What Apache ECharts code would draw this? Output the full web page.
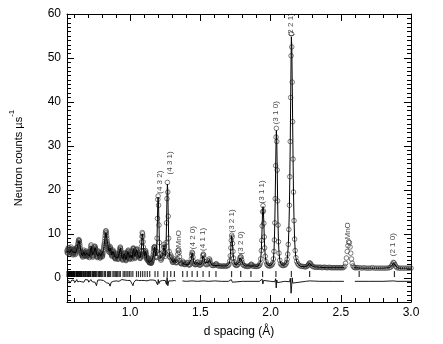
<!DOCTYPE html>
<html>
<head>
<meta charset="utf-8">
<script src="https://cdn.jsdelivr.net/npm/echarts@6/dist/echarts.min.js"></script>
<style>
html,body{margin:0;padding:0;background:#fff;}
#chart{width:443px;height:344px;}
</style>
</head>
<body>
<div id="chart"></div>
<script>
// ---------- DATA ----------
// Observed neutron counts [d spacing (Å), counts]
const obs = [
[0.550,6.2],[0.554,5.6],[0.558,6.8],[0.562,5.9],[0.566,6.5],[0.570,5.4],[0.574,6.1],[0.578,7.0],[0.582,6.3],[0.586,5.5],
[0.590,6.0],[0.594,5.2],[0.598,5.8],[0.602,6.6],[0.606,5.9],[0.610,5.3],[0.614,6.2],[0.618,6.9],[0.622,6.4],[0.626,7.2],
[0.630,8.0],[0.634,8.7],[0.638,8.4],[0.642,7.3],[0.646,6.2],[0.650,5.4],[0.654,5.9],[0.658,5.1],[0.662,4.7],[0.666,5.5],
[0.670,6.3],[0.674,5.6],[0.678,4.9],[0.682,5.3],[0.686,6.1],[0.690,5.4],[0.694,4.8],[0.698,5.2],[0.702,6.0],[0.706,5.3],
[0.710,4.6],[0.714,5.5],[0.718,6.6],[0.722,7.5],[0.726,6.2],[0.730,5.2],[0.734,4.7],[0.738,5.4],[0.742,6.2],[0.746,6.9],
[0.750,7.1],[0.754,6.5],[0.758,5.7],[0.762,5.0],[0.766,4.6],[0.770,5.3],[0.774,6.1],[0.778,5.6],[0.782,4.9],[0.786,4.5],
[0.790,5.1],[0.794,5.8],[0.798,5.2],[0.802,4.8],[0.806,5.6],[0.810,6.5],[0.814,7.4],[0.818,8.3],[0.822,9.6],[0.826,10.6],
[0.830,10.2],[0.834,8.9],[0.838,7.8],[0.842,7.2],[0.846,6.4],[0.850,5.8],[0.854,6.6],[0.858,7.1],[0.862,6.2],[0.866,5.4],
[0.870,4.9],[0.874,5.5],[0.878,6.3],[0.882,5.7],[0.886,5.0],[0.890,4.6],[0.894,4.3],[0.898,4.9],[0.902,5.6],[0.906,5.1],
[0.910,4.5],[0.914,4.2],[0.918,4.8],[0.922,5.5],[0.926,6.4],[0.930,7.0],[0.934,6.1],[0.938,5.1],[0.942,4.4],[0.946,4.0],
[0.950,4.6],[0.954,5.3],[0.958,5.7],[0.962,5.0],[0.966,4.3],[0.970,3.9],[0.974,4.4],[0.978,5.1],[0.982,5.8],[0.986,6.3],
[0.990,5.7],[0.994,4.8],[0.998,4.2],[1.002,4.7],[1.006,5.4],[1.010,4.9],[1.014,4.3],[1.018,6.2],[1.022,6.8],[1.026,6.3],
[1.030,5.1],[1.034,4.4],[1.038,4.9],[1.042,5.9],[1.046,6.6],[1.050,6.1],[1.054,5.2],[1.058,5.0],[1.062,5.6],[1.066,5.0],
[1.070,4.4],[1.074,4.8],[1.078,6.0],[1.082,8.2],[1.086,10.3],[1.090,9.4],[1.094,7.0],[1.098,5.5],[1.102,4.8],[1.106,5.6],
[1.110,6.2],[1.114,5.4],[1.118,4.5],[1.122,4.0],[1.126,4.6],[1.130,4.1],[1.134,3.6],[1.138,3.4],[1.142,3.7],[1.146,3.5],
[1.150,3.3],[1.154,3.6],[1.158,4.2],[1.162,4.8],[1.166,5.9],[1.170,6.9],[1.174,7.1],[1.178,6.2],[1.182,4.9],[1.186,4.6],
[1.188,6.0],[1.191,9.0],[1.194,13.5],[1.197,17.8],[1.199,18.6],[1.202,16.5],[1.205,12.0],[1.208,8.0],[1.211,5.5],[1.215,4.4],
[1.219,4.0],[1.223,4.3],[1.227,4.6],[1.231,5.0],[1.235,5.9],[1.238,7.0],[1.241,7.6],[1.244,7.0],[1.247,5.8],[1.250,4.9],
[1.253,5.4],[1.256,8.0],[1.259,12.5],[1.262,18.0],[1.265,21.7],[1.268,19.5],[1.271,14.0],[1.274,9.0],[1.277,6.0],[1.281,4.8],
[1.285,4.6],[1.289,5.2],[1.293,4.8],[1.297,4.0],[1.301,3.6],[1.305,3.5],[1.309,3.7],[1.313,4.0],[1.317,4.3],[1.321,3.9],
[1.325,3.5],[1.329,3.4],[1.333,3.6],[1.336,4.3],[1.339,5.4],[1.342,6.2],[1.345,6.4],[1.348,5.8],[1.351,4.8],[1.354,3.9],
[1.358,3.4],[1.362,3.2],[1.366,3.2],[1.370,3.4],[1.374,3.8],[1.378,3.5],[1.382,3.1],[1.388,3.0],[1.394,3.1],[1.400,3.2],
[1.405,3.5],[1.409,3.4],[1.414,3.0],[1.420,2.9],[1.426,3.0],[1.431,3.4],[1.435,4.3],[1.438,5.2],[1.441,5.8],[1.444,5.6],
[1.447,4.7],[1.450,3.8],[1.455,3.2],[1.461,3.0],[1.467,3.0],[1.473,3.1],[1.478,3.5],[1.482,3.6],[1.486,3.2],[1.492,2.9],
[1.498,2.9],[1.504,3.0],[1.510,3.4],[1.514,4.2],[1.517,5.0],[1.520,5.4],[1.523,5.2],[1.526,4.5],[1.530,3.7],[1.535,3.2],
[1.541,3.0],[1.548,3.0],[1.555,3.3],[1.560,3.9],[1.564,4.3],[1.568,4.0],[1.573,3.3],[1.580,2.9],[1.588,2.8],[1.596,2.8],
[1.604,2.9],[1.610,3.1],[1.614,3.2],[1.619,2.9],[1.627,2.7],[1.636,2.7],[1.645,2.7],[1.654,2.6],[1.663,2.7],[1.672,2.7],
[1.681,2.6],[1.690,2.7],[1.698,2.8],[1.704,3.1],[1.709,3.8],[1.713,5.0],[1.717,6.8],[1.720,8.5],[1.723,9.7],[1.726,9.3],
[1.729,7.8],[1.732,6.0],[1.736,4.5],[1.740,3.6],[1.745,3.1],[1.751,2.9],[1.757,2.8],[1.763,2.9],[1.769,3.1],[1.774,3.5],
[1.778,4.0],[1.782,4.5],[1.786,4.8],[1.790,4.7],[1.794,4.1],[1.798,3.5],[1.803,3.0],[1.810,2.8],[1.818,2.7],[1.826,2.6],
[1.835,2.6],[1.844,2.6],[1.852,2.7],[1.858,2.9],[1.862,3.1],[1.866,3.0],[1.872,2.7],[1.881,2.6],[1.890,2.6],[1.899,2.6],
[1.908,2.6],[1.916,2.7],[1.922,2.9],[1.926,3.3],[1.930,4.3],[1.934,6.2],[1.937,8.5],[1.940,11.8],[1.943,15.0],[1.946,16.4],
[1.949,15.2],[1.952,12.4],[1.955,9.3],[1.958,6.8],[1.962,4.9],[1.967,3.7],[1.973,3.1],[1.980,2.8],[1.988,2.7],[1.996,2.7],
[2.004,2.8],[2.011,3.0],[2.016,3.4],[2.020,4.3],[2.024,6.0],[2.027,8.6],[2.030,12.5],[2.033,18.0],[2.036,25.5],[2.039,32.0],
[2.041,34.0],[2.044,31.0],[2.047,24.5],[2.050,17.5],[2.053,12.0],[2.056,8.2],[2.060,5.6],[2.065,4.0],[2.071,3.2],[2.078,2.9],
[2.086,2.8],[2.094,2.8],[2.102,2.9],[2.108,3.1],[2.114,3.5],[2.118,4.2],[2.122,5.4],[2.126,7.6],[2.130,11.0],[2.134,16.5],
[2.137,23.0],[2.140,31.0],[2.143,41.0],[2.146,50.5],[2.148,55.5],[2.151,52.5],[2.154,44.5],[2.157,35.5],[2.160,27.0],[2.163,19.5],
[2.167,13.0],[2.171,8.8],[2.175,6.2],[2.180,4.6],[2.186,3.7],[2.193,3.2],[2.201,2.9],[2.210,2.7],[2.220,2.6],[2.230,2.6],
[2.240,2.5],[2.250,2.5],[2.258,2.6],[2.265,2.8],[2.270,3.0],[2.275,3.3],[2.280,3.4],[2.285,3.2],[2.290,2.9],[2.298,2.6],
[2.308,2.5],[2.318,2.4],[2.328,2.4],[2.338,2.4],[2.348,2.4],[2.358,2.4],[2.368,2.3],[2.378,2.4],[2.388,2.4],[2.398,2.3],
[2.408,2.3],[2.418,2.4],[2.428,2.3],[2.438,2.3],[2.448,2.3],[2.458,2.3],[2.468,2.3],[2.478,2.3],[2.488,2.3],[2.498,2.3],
[2.508,2.3],[2.518,2.3],[2.528,2.6],[2.534,3.3],[2.540,4.5],[2.546,6.0],[2.551,7.3],[2.556,8.2],[2.561,8.0],[2.566,7.0],
[2.571,5.6],[2.576,4.3],[2.581,3.3],[2.587,2.7],[2.594,2.4],[2.600,2.3],[2.610,2.3],[2.620,2.3],[2.635,2.3],[2.650,2.2],
[2.665,2.3],[2.680,2.2],[2.695,2.2],[2.710,2.2],[2.725,2.3],[2.740,2.2],[2.755,2.2],[2.770,2.2],[2.785,2.2],[2.800,2.2],
[2.815,2.2],[2.830,2.2],[2.845,2.3],[2.855,2.4],[2.862,2.7],[2.868,3.1],[2.874,3.5],[2.880,3.4],[2.886,3.0],[2.893,2.6],
[2.900,2.3],[2.912,2.2],[2.925,2.2],[2.940,2.2],[2.955,2.2],[2.970,2.2],[2.985,2.2],[3.000,2.2]
];
// Additional observed points in the densely sampled short-d region
const obsFine = [
[0.552,5.8],[0.556,6.4],[0.560,6.0],[0.564,6.9],[0.568,5.7],[0.572,5.9],[0.576,6.6],[0.580,6.5],[0.584,5.7],[0.588,6.3],
[0.592,5.5],[0.596,5.4],[0.600,6.4],[0.604,6.1],[0.608,5.5],[0.612,5.8],[0.616,6.7],[0.620,6.5],[0.624,6.9],[0.628,7.7],
[0.632,8.5],[0.636,8.3],[0.640,7.8],[0.644,6.7],[0.648,5.7],[0.652,5.8],[0.656,5.3],[0.660,4.9],[0.664,5.1],[0.668,6.0],
[0.672,5.8],[0.676,5.1],[0.680,5.2],[0.684,5.8],[0.688,5.6],[0.692,5.0],[0.696,5.1],[0.700,5.7],[0.704,5.6],[0.708,4.8],
[0.712,5.1],[0.716,6.1],[0.720,7.2],[0.724,6.8],[0.728,5.5],[0.732,4.9],[0.736,5.1],[0.740,5.9],[0.744,6.6],[0.748,7.2],
[0.752,6.7],[0.756,6.0],[0.760,5.3],[0.764,4.8],[0.768,4.9],[0.772,5.8],[0.776,5.9],[0.780,5.2],[0.784,4.6],[0.788,4.8],
[0.792,5.5],[0.796,5.4],[0.800,4.9],[0.804,5.2],[0.808,6.1],[0.812,7.0],[0.816,7.8],[0.820,9.0],[0.824,10.2],[0.828,10.7],
[0.832,9.5],[0.836,8.3],[0.840,7.5],[0.844,6.8],[0.848,6.0],[0.852,6.2],[0.856,6.9],[0.860,6.6],[0.864,5.7],[0.868,5.1],
[0.872,5.2],[0.876,6.0],[0.880,6.0],[0.884,5.3],[0.888,4.8],[0.892,4.4],[0.896,4.6],[0.900,5.3],[0.904,5.4],[0.908,4.8],
[0.912,4.3],[0.916,4.5],[0.920,5.2],[0.924,5.9],[0.928,6.8],[0.932,6.6],[0.936,5.6],[0.940,4.7],[0.944,4.2],[0.948,4.3],
[0.952,5.0],[0.956,5.5],[0.960,5.4],[0.964,4.6],[0.968,4.1],[0.972,4.1],[0.976,4.8],[0.980,5.5],[0.984,6.1],[0.988,6.0],
[0.992,5.2],[0.996,4.5],[1.000,4.4],[1.004,5.1],[1.008,5.2],[1.012,4.6],[1.016,5.3],[1.020,6.6],[1.024,6.6],[1.028,5.7],
[1.032,4.7],[1.036,4.6],[1.040,5.4],[1.044,6.3],[1.048,6.4],[1.052,5.6],[1.056,5.0],[1.060,5.3],[1.064,5.3],[1.068,4.7],
[1.072,4.5],[1.076,5.3],[1.080,7.1],[1.084,9.4],[1.088,10.0],[1.092,8.2],[1.096,6.2],[1.100,5.1],[1.104,5.2],[1.108,5.9],
[1.112,5.8],[1.116,4.9],[1.120,4.2],[1.124,4.3],[1.128,4.4],[1.132,3.8],[1.136,3.5],[1.140,3.5],[1.144,3.6],[1.148,3.4],
[1.152,3.4],[1.156,3.9],[1.160,4.5],[1.164,5.3],[1.168,6.5],[1.172,7.0],[1.176,6.7],[1.180,5.5],[1.184,4.7]
];

// Calculated profile, in three segments (MnO regions excluded)
const calcA = [
[0.550,6.0],[0.560,6.1],[0.570,5.8],[0.580,6.4],[0.590,5.9],[0.600,6.1],[0.610,5.7],[0.620,6.5],[0.628,7.6],[0.635,8.5],
[0.642,7.6],[0.650,5.8],[0.660,5.0],[0.670,5.9],[0.680,5.1],[0.690,5.6],[0.700,5.4],[0.710,4.9],[0.722,7.2],[0.732,5.2],
[0.742,5.8],[0.750,6.9],[0.760,5.5],[0.770,5.0],[0.780,5.5],[0.790,5.0],[0.800,5.1],[0.810,6.2],[0.820,8.8],[0.827,10.3],
[0.834,8.9],[0.842,7.2],[0.850,6.0],[0.858,6.8],[0.868,5.2],[0.878,6.0],[0.890,4.8],[0.900,5.1],[0.912,4.5],[0.922,5.4],
[0.930,6.8],[0.940,4.8],[0.948,4.3],[0.958,5.5],[0.970,4.1],[0.984,6.0],[0.996,4.6],[1.006,5.2],[1.014,4.5],[1.022,6.6],
[1.032,4.9],[1.046,6.4],[1.056,5.1],[1.062,5.5],[1.070,4.5],[1.078,5.8],[1.082,8.0],[1.086,10.0],[1.090,9.2],[1.095,6.8],
[1.102,4.9],[1.110,6.0],[1.120,4.2],[1.128,4.4],[1.138,3.5],[1.150,3.4],[1.158,4.1],[1.166,5.8],[1.174,7.0],[1.182,5.0],
[1.186,4.7],[1.188,5.8],[1.191,8.8],[1.194,13.2],[1.197,17.5],[1.199,18.3],[1.202,16.8],[1.205,12.3],[1.208,8.2],[1.211,5.6],
[1.215,4.4],[1.223,4.2],[1.231,5.0],[1.238,6.9],[1.241,7.4],[1.244,6.9],[1.250,5.0],[1.253,5.5],[1.256,8.2],[1.259,12.8],
[1.262,18.3],[1.265,21.3],[1.268,19.8],[1.271,14.2],[1.274,9.1],[1.277,6.1],[1.283,4.7],[1.289,5.1],[1.297,4.0],[1.305,3.5],
[1.317,4.2],[1.325,3.6],[1.330,3.4]
];
const calcB = [
[1.370,3.4],[1.374,3.7],[1.380,3.3],[1.392,3.0],[1.406,3.4],[1.416,3.0],[1.428,3.0],[1.435,4.2],[1.438,5.1],[1.441,5.7],
[1.444,5.5],[1.447,4.7],[1.452,3.6],[1.462,3.0],[1.478,3.5],[1.488,3.1],[1.500,2.9],[1.510,3.4],[1.514,4.2],[1.517,5.0],
[1.520,5.3],[1.523,5.1],[1.527,4.3],[1.533,3.4],[1.545,3.0],[1.558,3.6],[1.564,4.2],[1.570,3.7],[1.582,2.9],[1.600,2.8],
[1.612,3.2],[1.622,2.8],[1.650,2.7],[1.690,2.7],[1.700,2.9],[1.706,3.3],[1.710,4.0],[1.714,5.3],[1.717,6.9],[1.720,8.6],
[1.723,9.6],[1.726,9.2],[1.729,7.7],[1.732,6.0],[1.736,4.4],[1.742,3.4],[1.752,2.9],[1.765,2.9],[1.774,3.5],[1.782,4.5],
[1.787,4.8],[1.791,4.6],[1.796,3.8],[1.804,3.0],[1.820,2.7],[1.850,2.7],[1.862,3.1],[1.874,2.7],[1.910,2.6],[1.922,2.9],
[1.927,3.5],[1.931,4.7],[1.934,6.3],[1.937,8.7],[1.940,12.0],[1.943,15.1],[1.946,16.2],[1.949,15.0],[1.952,12.3],[1.955,9.3],
[1.958,6.8],[1.962,4.9],[1.968,3.6],[1.978,2.9],[2.000,2.7],[2.012,3.0],[2.017,3.5],[2.021,4.5],[2.024,6.0],[2.027,8.6],
[2.030,12.6],[2.033,18.2],[2.036,25.2],[2.039,31.2],[2.041,33.5],[2.044,31.3],[2.047,24.8],[2.050,17.8],[2.053,12.2],[2.056,8.3],
[2.060,5.7],[2.066,3.9],[2.076,3.0],[2.095,2.8],[2.108,3.1],[2.114,3.5],[2.118,4.2],[2.122,5.4],[2.126,7.5],[2.130,10.9],
[2.134,16.2],[2.137,22.8],[2.140,30.6],[2.143,40.4],[2.146,50.0],[2.148,54.8],[2.151,52.8],[2.154,44.8],[2.157,35.8],[2.160,27.2],
[2.163,19.6],[2.167,13.0],[2.171,8.8],[2.175,6.2],[2.180,4.6],[2.187,3.6],[2.198,3.0],[2.215,2.6],[2.245,2.5],[2.262,2.7],
[2.270,3.0],[2.276,3.3],[2.281,3.4],[2.287,3.1],[2.295,2.7],[2.310,2.5],[2.350,2.4],[2.400,2.3],[2.450,2.3],[2.525,2.3]
];
const calcC = [
[2.595,2.3],[2.650,2.2],[2.700,2.2],[2.750,2.2],[2.800,2.2],[2.845,2.3],[2.856,2.4],[2.863,2.7],[2.869,3.1],[2.875,3.4],
[2.881,3.3],[2.887,2.9],[2.894,2.5],[2.905,2.2],[2.950,2.2],[3.000,2.2]
];

// Difference curve (offset), in three segments
const diffA = [
[0.550,-0.6],[0.560,-1.0],[0.565,-0.7],[0.570,-1.2],[0.580,-0.8],[0.585,-0.5],[0.590,-0.9],[0.600,-0.6],[0.605,-1.1],[0.610,-0.7],
[0.620,-0.4],[0.625,-0.9],[0.630,-0.6],[0.635,-1.3],[0.640,-0.8],[0.650,-0.5],[0.655,-0.9],[0.660,-0.6],[0.670,-1.0],[0.675,-0.6],
[0.680,-0.4],[0.690,-0.8],[0.700,-0.5],[0.705,-1.0],[0.710,-0.7],[0.720,-0.4],[0.730,-0.9],[0.740,-0.6],[0.750,-1.0],[0.760,-1.8],
[0.765,-1.0],[0.770,-0.5],[0.780,-0.8],[0.790,-0.5],[0.800,-0.9],[0.810,-0.6],[0.820,-0.3],[0.830,-1.1],[0.840,-0.7],[0.850,-1.3],
[0.857,-1.9],[0.865,-1.0],[0.870,-0.6],[0.880,-0.8],[0.890,-0.5],[0.900,-0.7],[0.910,-0.5],[0.920,-0.8],[0.930,-0.5],[0.940,-0.4],
[0.950,-0.6],[0.960,-0.5],[0.970,-0.8],[0.980,-0.6],[0.990,-0.4],[1.000,-0.6],[1.010,-0.9],[1.020,-1.8],[1.025,-1.1],[1.030,-0.7],
[1.040,-0.5],[1.050,-0.8],[1.060,-0.6],[1.070,-0.5],[1.080,-0.6],[1.090,-0.9],[1.100,-0.6],[1.110,-0.5],[1.120,-0.7],[1.130,-0.6],
[1.140,-0.5],[1.150,-0.6],[1.160,-0.5],[1.170,-0.7],[1.180,-0.6],[1.190,-0.9],[1.195,-1.6],[1.200,-0.4],[1.205,-1.3],[1.210,-0.8],
[1.220,-0.6],[1.230,-0.6],[1.240,-0.9],[1.250,-0.6],[1.258,-1.5],[1.263,0.1],[1.268,-1.8],[1.275,-0.7],[1.285,-0.6],[1.300,-0.7],
[1.315,-0.6],[1.325,-0.7]
];
const diffB = [
[1.372,-0.7],[1.400,-0.8],[1.440,-0.7],[1.480,-0.8],[1.520,-0.7],[1.560,-0.8],[1.600,-0.7],[1.650,-0.8],[1.700,-0.8],[1.720,-0.4],
[1.728,-1.0],[1.740,-0.8],[1.800,-0.8],[1.860,-0.8],[1.920,-0.8],[1.940,-0.3],[1.945,-1.4],[1.950,-0.6],[1.960,-0.8],[2.000,-0.8],
[2.030,-0.9],[2.036,-0.2],[2.040,-2.3],[2.044,-0.5],[2.048,-1.1],[2.060,-0.8],[2.100,-0.8],[2.135,-0.9],[2.141,-0.1],[2.146,-3.5],
[2.150,-1.8],[2.154,0.0],[2.158,-1.2],[2.170,-0.8],[2.250,-0.8],[2.280,-0.7],[2.350,-0.8],[2.450,-0.8],[2.522,-0.8]
];
const diffC = [
[2.600,-0.8],[2.700,-0.8],[2.800,-0.8],[2.876,-0.7],[2.900,-0.8],[3.000,-0.8]
];

// Reflection positions (d, Å)
const reflections = [
2.882,2.631,2.278,2.148,2.038,1.943,1.860,1.787,1.722,1.611,1.563,1.519,1.478,1.441,1.406,1.374,1.315,1.289,1.264,1.240,
1.197,1.177,1.139,1.122,1.105,1.089,1.074,1.059,1.045,1.019,1.006,0.994,0.983,0.971,0.961,0.950,0.930,0.921,0.911,0.902,
0.894,0.885,0.877,0.861,0.854,0.846,0.839,0.825,0.818,0.806,0.799,0.793,0.787,0.781,0.776,0.770,0.759,0.754,0.749,0.744,
0.739,0.734,0.730,0.720,0.716,0.712,0.707,0.703,0.699,0.695,0.687,0.683,0.679,0.676,0.668,0.665,0.658,0.654,0.651,0.648,
0.644,0.641,0.638,0.632,0.629,0.626,0.623,0.620,0.617,0.614,0.606,0.604,0.601,0.598,0.596,0.593,0.588,0.586,0.583,0.581,
0.576,0.574,0.570,0.567,0.565,0.563,0.561,0.559,0.557,0.553,0.551
];
const reflectionRow = 0.85;

// Peak annotations
const peakLabelText = ['(4 3 2)','(4 3 1)','MnO','(4 2 0)','(4 1 1)','(3 2 1)','(3 2 0)','(3 1 1)','(3 1 0)','(2 2 1)','MnO','(2 1 0)'];
const peakLabelD    = [1.212, 1.284, 1.347, 1.447, 1.521, 1.730, 1.793, 1.944, 2.039, 2.148, 2.555, 2.875];
const peakLabelY    = [19.0, 23.4, 6.8, 6.4, 6.0, 10.2, 5.2, 16.8, 34.8, 54.8, 8.6, 4.8];

// Axis ticks
const xMajor = [1.0,1.5,2.0,2.5,3.0];
const xMinor = [0.6,0.7,0.8,0.9,1.1,1.2,1.3,1.4,1.6,1.7,1.8,1.9,2.1,2.2,2.3,2.4,2.6,2.7,2.8,2.9];
const yMajor = [0,10,20,30,40,50,60];
const yMinor = [-5,-4,-3,-2,-1,1,2,3,4,5,6,7,8,9,11,12,13,14,15,16,17,18,19,21,22,23,24,25,26,27,28,29,
31,32,33,34,35,36,37,38,39,41,42,43,44,45,46,47,48,49,51,52,53,54,55,56,57,58,59];

// ---------- CHART ----------
const FONT = "'Liberation Sans', Arial, Helvetica, sans-serif";
const XMIN = 0.55, XMAX = 3.0, YMIN = -5.5, YMAX = 60;

function xAx(pos, ticks, len, showLine, showLabel, extra) {
  return Object.assign({
    type: 'value', min: XMIN, max: XMAX, position: pos,
    axisLine: {show: showLine, onZero: false, lineStyle: {color: '#000', width: 1}},
    axisTick: {show: true, inside: true, length: len, customValues: ticks, lineStyle: {color: '#000', width: 1}},
    axisLabel: showLabel ? {show: true, customValues: ticks, color: '#000', fontSize: 12, fontFamily: FONT, margin: 5,
                 formatter: v => v.toFixed(1)} : {show: false},
    splitLine: {show: false}
  }, extra || {});
}
function yAx(pos, ticks, len, showLine, showLabel, extra) {
  return Object.assign({
    type: 'value', min: YMIN, max: YMAX, position: pos,
    axisLine: {show: showLine, onZero: false, lineStyle: {color: '#000', width: 1}},
    axisTick: {show: true, inside: true, length: len, customValues: ticks, lineStyle: {color: '#000', width: 1}},
    axisLabel: showLabel ? {show: true, customValues: ticks, color: '#000', fontSize: 12, fontFamily: FONT, margin: 6} : {show: false},
    splitLine: {show: false}
  }, extra || {});
}

const chart = echarts.init(document.getElementById('chart'), null, {renderer: 'canvas'});

const lineStyleCalc = {color: '#000', width: 1};
const lineStyleDiff = {color: '#000', width: 0.9};

function lineSeries(data, style) {
  return {type: 'line', data: data, showSymbol: false, symbol: 'none', lineStyle: style,
          silent: true, z: 3, animation: false, xAxisIndex: 0, yAxisIndex: 0};
}

chart.setOption({
  animation: false,
  backgroundColor: '#fff',
  grid: {left: 59, top: 14, width: 352, height: 288, containLabel: false},
  xAxis: [
    xAx('bottom', xMajor, 7, true, true, {
      name: 'd spacing (Å)', nameLocation: 'middle', nameGap: 24,
      nameTextStyle: {color: '#000', fontSize: 12, fontFamily: FONT}
    }),
    xAx('bottom', xMinor, 4, false, false),
    xAx('top', xMajor, 7, true, false),
    xAx('top', xMinor, 4, false, false)
  ],
  yAxis: [
    yAx('left', yMajor, 7, true, true, {
      name: '{a|Neutron counts µs}{b|-1}', nameLocation: 'middle', nameGap: 37, nameRotate: 90,
      nameTextStyle: {color: '#000', fontFamily: FONT, rich: {
        a: {fontSize: 11, fontFamily: FONT, color: '#000', lineHeight: 22, verticalAlign: 'middle'},
        b: {fontSize: 8, fontFamily: FONT, color: '#000', lineHeight: 22, verticalAlign: 'top'}
      }}
    }),
    yAx('left', yMinor, 4, false, false),
    yAx('right', yMajor, 7, true, false),
    yAx('right', yMinor, 4, false, false)
  ],
  series: [
    {
      type: 'scatter', data: obs.concat(obsFine), symbol: 'circle', symbolSize: 4.6, silent: true, z: 2,
      itemStyle: {color: 'rgba(0,0,0,0)', borderColor: '#333', borderWidth: 0.8},
      xAxisIndex: 0, yAxisIndex: 0
    },
    lineSeries(calcA, lineStyleCalc),
    lineSeries(calcB, lineStyleCalc),
    lineSeries(calcC, lineStyleCalc),
    lineSeries(diffA, lineStyleDiff),
    lineSeries(diffB, lineStyleDiff),
    lineSeries(diffC, lineStyleDiff),
    {
      type: 'scatter', data: reflections.map(d => [d, reflectionRow]), symbol: 'rect', symbolSize: [1.2, 6],
      itemStyle: {color: '#000'}, silent: true, z: 3, xAxisIndex: 0, yAxisIndex: 0
    },
    {
      type: 'scatter', silent: true, z: 4, symbolSize: 1, itemStyle: {color: 'rgba(0,0,0,0)'},
      data: peakLabelD.map((d, i) => ({value: [d, peakLabelY[i]], name: peakLabelText[i]})),
      label: {show: true, formatter: p => p.name, position: [0, 0], rotate: 90, align: 'left', verticalAlign: 'middle',
              fontSize: 8, fontFamily: FONT, color: '#111'},
      xAxisIndex: 0, yAxisIndex: 0
    }
  ]
});
</script>
</body>
</html>
